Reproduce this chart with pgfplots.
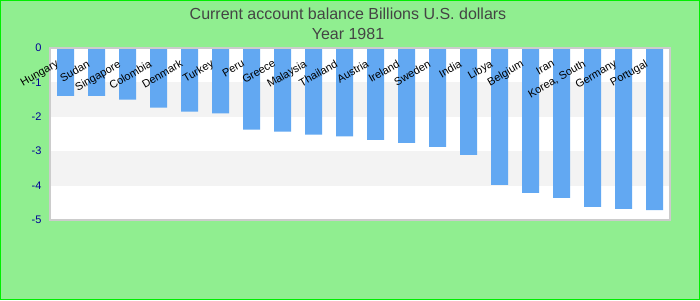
\documentclass[border=0pt]{standalone}
\usepackage{pgfplots}
\pgfplotsset{compat=1.18}
\usepackage{fontspec}
\setmainfont{Liberation Sans}
\definecolor{bgreen}{RGB}{144,238,144}
\definecolor{bordergreen}{RGB}{0,238,0}
\definecolor{barblue}{RGB}{98,168,242}
\definecolor{band}{RGB}{243,243,243}
\definecolor{titlegray}{RGB}{68,68,68}
\definecolor{ticknavy}{RGB}{0,0,150}
\definecolor{framegray}{RGB}{204,204,204}
\begin{document}
\begin{tikzpicture}[x=1pt,y=1pt]
\useasboundingbox (0,0) rectangle (700,300);
\fill[bgreen] (0,0) rectangle (700,300);
\draw[bordergreen, line width=1.2pt] (0.6,0.6) rectangle (699.4,299.4);
\node[text=titlegray, font=\fontsize{16}{20}\selectfont, align=center] at (348,286) {Current account balance Billions U.S. dollars};
\node[text=titlegray, font=\fontsize{16}{20}\selectfont, align=center] at (348,266) {Year 1981};
\begin{axis}[
  at={(50pt,80pt)}, anchor=south west,
  scale only axis, width=620pt, height=172pt,
  xmin=-0.5, xmax=19.5, ymin=-5, ymax=0,
  axis on top,
  axis background/.style={fill=white},
  axis line style={framegray, line width=1.2pt},
  ytick={0,-1,-2,-3,-4,-5},
  /pgf/number format/assume math mode=true,
  yticklabel style={text=ticknavy, font=\fontsize{11}{13}\selectfont, xshift=-5pt},
  major tick length=0pt,
  xtick={0,...,19},
  xticklabels={Hungary,Sudan,Singapore,Colombia,Denmark,Turkey,Peru,Greece,Malaysia,Thailand,Austria,Ireland,Sweden,India,Libya,Belgium,Iran,{Korea, South},Germany,Portugal},
  xticklabel pos=upper,
  xticklabel style={xshift=-10pt, yshift=-11pt, rotate=30, anchor=north east, inner sep=0pt, font=\fontsize{11}{13}\selectfont, text=black},
  tick style={draw=none},
  clip=false,
]
\fill[band] (axis cs:-0.5,-2) rectangle (axis cs:19.5,-1);
\fill[band] (axis cs:-0.5,-4) rectangle (axis cs:19.5,-3);
\addplot[ybar, bar width=17pt, fill=barblue, draw=none] coordinates {
(0,-1.39) (1,-1.39) (2,-1.50) (3,-1.73) (4,-1.85) (5,-1.90) (6,-2.37) (7,-2.43) (8,-2.52) (9,-2.57)
(10,-2.67) (11,-2.76) (12,-2.875) (13,-3.11) (14,-3.98) (15,-4.21) (16,-4.36) (17,-4.62) (18,-4.68) (19,-4.71)
};
\end{axis}
\end{tikzpicture}
\end{document}
